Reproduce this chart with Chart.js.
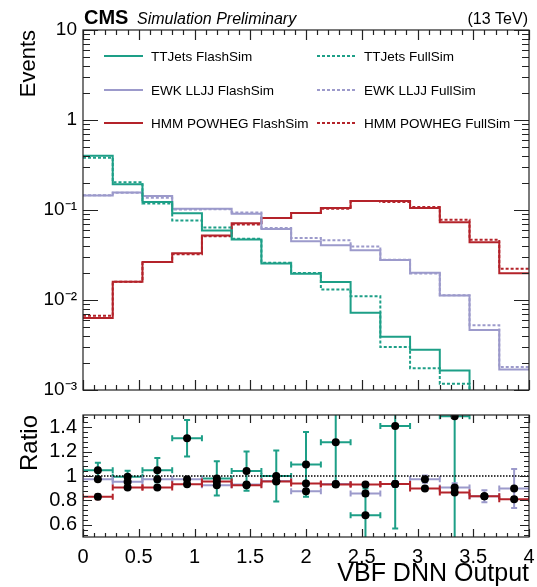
<!DOCTYPE html>
<html>
<head>
<meta charset="utf-8">
<script src="https://cdn.jsdelivr.net/npm/chart.js@4.4.0/dist/chart.umd.min.js"></script>
<style>
  html, body { margin: 0; padding: 0; background: #fff; }
  #wrap { position: relative; width: 537px; height: 587px; overflow: hidden; }
  canvas { position: absolute; left: 0; }
  #main { top: 0; }
  #ratio { top: 400px; }
</style>
</head>
<body>
<div id="wrap">
  <canvas id="main" width="537" height="400"></canvas>
  <canvas id="ratio" width="537" height="187"></canvas>
</div>
<script>
"use strict";

// binning: 15 bins between 0 and 4
const xMax = 4;
const nBins = 15;
const binEdges = Array.from({ length: nBins + 1 }, (_, i) => (i * xMax) / nBins);
const binCenters = binEdges.slice(0, -1).map((e, i) => (e + binEdges[i + 1]) / 2);

// normalised distributions (upper panel)
const ttFlash = [0.40, 0.193, 0.123, 0.092, 0.059, 0.047, 0.0254, 0.0196, 0.0158, 0.0072, 0.0039, 0.0028, 0.00165, 0, 0];
const ttFull = [0.38, 0.203, 0.118, 0.0766, 0.064, 0.048, 0.026, 0.020, 0.0131, 0.011, 0.0030, 0.00175, 0.00117, 0, 0];
const ewkFlash = [0.145, 0.156, 0.143, 0.1035, 0.103, 0.091, 0.0616, 0.0449, 0.0407, 0.0358, 0.0279, 0.0201, 0.0112, 0.00464, 0.00169];
const ewkFull = [0.146, 0.155, 0.137, 0.101, 0.102, 0.094, 0.063, 0.0487, 0.046, 0.0393, 0.028, 0.0197, 0.0113, 0.00524, 0.0018];
const hmmFlash = [0.0063, 0.0159, 0.0265, 0.0331, 0.052, 0.0714, 0.0813, 0.0925, 0.105, 0.126, 0.126, 0.105, 0.0733, 0.0437, 0.0198];
const hmmFull = [0.0067, 0.0159, 0.0265, 0.0322, 0.051, 0.069, 0.0813, 0.0925, 0.103, 0.126, 0.123, 0.108, 0.0779, 0.0468, 0.0223];

// FlashSim / FullSim ratios (lower panel)
const ttRatio = [1.048, 0.993, 1.048, 1.309, 0.98, 1.04, 1.0, 1.095, 1.276, 0.678, 1.41, null, 1.49, null, null];
const ttRatioErr = [0.06, 0.05, 0.1, 0.15, 0.14, 0.16, 0.21, 0.265, 0.34, 0.22, 0.84, null, 1.0, null, null];
const ewkRatio = [0.974, 0.952, 0.974, 0.974, 0.925, 0.93, 0.96, 0.876, 0.935, 0.857, 0.935, 0.974, 0.906, 0.834, 0.898];
const ewkRatioErr = [0.01, 0.01, 0.01, 0.01, 0.01, 0.01, 0.015, 0.02, 0.02, 0.02, 0.025, 0.03, 0.035, 0.05, 0.16];
const hmmRatio = [0.829, 0.906, 0.906, 0.933, 0.955, 0.925, 0.955, 0.939, 0.931, 0.931, 0.935, 0.898, 0.865, 0.834, 0.81];
const hmmRatioErr = [0.02, 0.01, 0.01, 0.01, 0.01, 0.01, 0.01, 0.01, 0.01, 0.01, 0.01, 0.01, 0.01, 0.01, 0.015];

// axis ticks
const xTicks = [0, 0.5, 1, 1.5, 2, 2.5, 3, 3.5, 4];
const mainYTicks = [0.001, 0.01, 0.1, 1, 10];
const mainYLabels = ["10\u207B\u00B3", "10\u207B\u00B2", "10\u207B\u00B9", "1", "10"];
const ratioYTicks = [0.6, 0.8, 1, 1.2, 1.4];
const ratioYLabels = ["0.6", "0.8", "1", "1.2", "1.4"];

const GREEN = "#1d9f87";
const LAV = "#9c9acb";
const RED = "#b4232a";
const FONT = "'Liberation Sans', Arial, Helvetica, sans-serif";

const mainSeries = [
  { label: "TTJets FlashSim", values: ttFlash, color: GREEN, dashed: false },
  { label: "TTJets FullSim", values: ttFull, color: GREEN, dashed: true },
  { label: "EWK LLJJ FlashSim", values: ewkFlash, color: LAV, dashed: false },
  { label: "EWK LLJJ FullSim", values: ewkFull, color: LAV, dashed: true },
  { label: "HMM POWHEG FlashSim", values: hmmFlash, color: RED, dashed: false },
  { label: "HMM POWHEG FullSim", values: hmmFull, color: RED, dashed: true },
];

const ratioSeries = [
  { values: ttRatio, errors: ttRatioErr, color: GREEN },
  { values: ewkRatio, errors: ewkRatioErr, color: LAV },
  { values: hmmRatio, errors: hmmRatioErr, color: RED },
];

function histPoints(values) {
  // empty bins go far below the log axis so the step drops out of the frame
  const pts = values.map((v, i) => ({ x: binEdges[i], y: v > 0 ? v : 1e-6 }));
  pts.push({ x: binEdges[nBins], y: pts[pts.length - 1].y });
  return pts;
}

// keep the plot frame where layout.padding puts it (no extra room for edge labels)
function noEdgePadding(s) {
  s.paddingLeft = 0;
  s.paddingRight = 0;
  s.paddingTop = 0;
  s.paddingBottom = 0;
}

// ROOT style frame with inward ticks on all four sides
function frameTicks(cfg) {
  return {
    id: "frameTicks",
    afterDraw(chart) {
      const { ctx, chartArea: a } = chart;
      const xs = chart.scales.x;
      const ys = chart.scales.y;
      ctx.save();
      ctx.strokeStyle = "#222";
      ctx.lineWidth = 1.2;
      ctx.beginPath();
      cfg.xMinor.forEach((v) => {
        const p = Math.round(xs.getPixelForValue(v)) + 0.5;
        const len = cfg.xMajor.some((m) => Math.abs(m - v) < 1e-6) ? cfg.xMajorLen : cfg.xMinorLen;
        ctx.moveTo(p, a.bottom);
        ctx.lineTo(p, a.bottom - len);
        ctx.moveTo(p, a.top);
        ctx.lineTo(p, a.top + len);
      });
      cfg.yMinor.forEach((v) => {
        const p = Math.round(ys.getPixelForValue(v)) + 0.5;
        const len = cfg.yMajor.some((m) => Math.abs(m - v) / m < 1e-6) ? cfg.yMajorLen : cfg.yMinorLen;
        ctx.moveTo(a.left, p);
        ctx.lineTo(a.left + len, p);
        ctx.moveTo(a.right, p);
        ctx.lineTo(a.right - len, p);
      });
      ctx.stroke();
      ctx.strokeRect(a.left, a.top, a.right - a.left, a.bottom - a.top);
      ctx.restore();
    },
  };
}

const xMinorTicks = Array.from({ length: 41 }, (_, i) => i / 10);
const logMinorTicks = [];
[0.001, 0.01, 0.1, 1].forEach((d) => {
  for (let k = 1; k <= 9; k++) logMinorTicks.push(k * d);
});
logMinorTicks.push(10);
const ratioMinorTicks = Array.from({ length: 25 }, (_, i) => 0.52 + i * 0.04);

const headerPlugin = {
  id: "header",
  afterDraw(chart) {
    const { ctx, chartArea: a } = chart;
    ctx.save();
    ctx.fillStyle = "#000";
    ctx.textBaseline = "alphabetic";
    ctx.font = "bold 20px " + FONT;
    ctx.textAlign = "left";
    ctx.fillText("CMS", a.left + 1, 24);
    ctx.font = "italic 16px " + FONT;
    ctx.fillText("Simulation Preliminary", a.left + 54, 24);
    ctx.textAlign = "right";
    ctx.font = "16px " + FONT;
    ctx.fillText("(13 TeV)", a.right - 1, 24);

    // legend, two columns
    const colX = [104, 317];
    const rowY = [56, 90, 123];
    ctx.font = "13.5px " + FONT;
    ctx.textAlign = "left";
    ctx.textBaseline = "middle";
    chart.data.datasets.forEach((ds, i) => {
      const x = colX[i % 2];
      const y = rowY[Math.floor(i / 2)];
      ctx.strokeStyle = ds.borderColor;
      ctx.lineWidth = 2;
      ctx.setLineDash(ds.borderDash);
      ctx.beginPath();
      ctx.moveTo(x, y);
      ctx.lineTo(x + 39, y);
      ctx.stroke();
      ctx.setLineDash([]);
      ctx.fillText(ds.label, x + 47, y + 1);
    });
    ctx.restore();
  },
};

const errorBars = {
  id: "errorBars",
  beforeDatasetsDraw(chart) {
    const { ctx, chartArea: a } = chart;
    const xs = chart.scales.x;
    const ys = chart.scales.y;
    ctx.save();
    ctx.beginPath();
    ctx.rect(a.left, a.top, a.right - a.left, a.bottom - a.top);
    ctx.clip();
    ctx.lineWidth = 2;
    ratioSeries.forEach((s) => {
      ctx.strokeStyle = s.color;
      s.values.forEach((v, i) => {
        if (v == null) return;
        const x0 = xs.getPixelForValue(binEdges[i]);
        const x1 = xs.getPixelForValue(binEdges[i + 1]);
        const xc = xs.getPixelForValue(binCenters[i]);
        const yv = ys.getPixelForValue(v);
        const yt = ys.getPixelForValue(v + s.errors[i]);
        const yb = ys.getPixelForValue(v - s.errors[i]);
        ctx.beginPath();
        ctx.moveTo(x0, yv);
        ctx.lineTo(x1, yv);
        ctx.moveTo(x0, yv - 3);
        ctx.lineTo(x0, yv + 3);
        ctx.moveTo(x1, yv - 3);
        ctx.lineTo(x1, yv + 3);
        ctx.moveTo(xc, yt);
        ctx.lineTo(xc, yb);
        ctx.moveTo(xc - 3, yt);
        ctx.lineTo(xc + 3, yt);
        ctx.moveTo(xc - 3, yb);
        ctx.lineTo(xc + 3, yb);
        ctx.stroke();
      });
    });
    ctx.restore();
  },
};

Chart.defaults.font.family = FONT;
Chart.defaults.color = "#000";

new Chart("main", {
  type: "line",
  data: {
    datasets: mainSeries.map((s) => ({
      label: s.label,
      data: histPoints(s.values),
      borderColor: s.color,
      borderWidth: 2,
      borderDash: s.dashed ? [3, 2] : [],
      stepped: true,
      pointRadius: 0,
      fill: false,
    })),
  },
  options: {
    responsive: false,
    animation: false,
    devicePixelRatio: 1,
    layout: { padding: { left: 0, right: 8, top: 30, bottom: 10 } },
    plugins: { legend: { display: false }, tooltip: { enabled: false } },
    scales: {
      x: { type: "linear", min: 0, max: xMax, display: false, afterFit: noEdgePadding },
      y: {
        type: "logarithmic",
        min: 0.001,
        max: 10,
        afterBuildTicks: (s) => {
          s.ticks = mainYTicks.map((v) => ({ value: v }));
        },
        afterFit: (s) => {
          s.width = 83;
          noEdgePadding(s);
        },
        ticks: {
          font: { size: 19, lineHeight: 1 },
          padding: 6,
          callback: (v, i) => mainYLabels[i],
        },
        grid: { display: false, drawTicks: false },
        border: { display: false },
        title: {
          display: true,
          text: "Events",
          align: "end",
          font: { size: 22 },
          padding: { top: 16, bottom: 0 },
        },
      },
    },
  },
  plugins: [
    headerPlugin,
    frameTicks({
      xMajor: xTicks, xMinor: xMinorTicks, xMajorLen: 10, xMinorLen: 5,
      yMajor: mainYTicks, yMinor: logMinorTicks, yMajorLen: 15, yMinorLen: 7,
    }),
  ],
});

const pointSet = (values) => ({
  data: values.map((v, i) => ({ x: binCenters[i], y: v })),
  showLine: false,
  pointRadius: 4,
  pointBackgroundColor: "#000",
  pointBorderColor: "#000",
  pointBorderWidth: 0,
  order: 0,
});

new Chart("ratio", {
  type: "scatter",
  data: {
    datasets: [
      {
        type: "line",
        data: [{ x: 0, y: 1 }, { x: xMax, y: 1 }],
        borderColor: "#000",
        borderWidth: 1.5,
        borderDash: [1.5, 1.5],
        pointRadius: 0,
        order: 5,
      },
      pointSet(ttRatio),
      pointSet(ewkRatio),
      pointSet(hmmRatio),
    ],
  },
  options: {
    responsive: false,
    animation: false,
    devicePixelRatio: 1,
    layout: { padding: { left: 0, right: 8, top: 15, bottom: 0 } },
    plugins: { legend: { display: false }, tooltip: { enabled: false } },
    scales: {
      x: {
        type: "linear",
        min: 0,
        max: xMax,
        afterBuildTicks: (s) => {
          s.ticks = xTicks.map((v) => ({ value: v }));
        },
        afterFit: (s) => {
          s.height = 50;
          noEdgePadding(s);
        },
        ticks: {
          font: { size: 20 },
          padding: 8,
          autoSkip: false,
          maxRotation: 0,
          callback: (v) => String(v),
        },
        grid: { display: false, drawTicks: false },
        border: { display: false },
        title: {
          display: true,
          text: "VBF DNN Output",
          align: "end",
          font: { size: 25, lineHeight: 1 },
          padding: { top: 0, bottom: 0 },
        },
      },
      y: {
        type: "linear",
        min: 0.5,
        max: 1.5,
        afterBuildTicks: (s) => {
          s.ticks = ratioYTicks.map((v) => ({ value: v }));
        },
        afterFit: (s) => {
          s.width = 83;
          noEdgePadding(s);
        },
        ticks: {
          font: { size: 20 },
          padding: 6,
          callback: (v, i) => ratioYLabels[i],
        },
        grid: { display: false, drawTicks: false },
        border: { display: false },
        title: {
          display: true,
          text: "Ratio",
          align: "end",
          font: { size: 24, lineHeight: 1 },
          padding: { top: 18, bottom: 0 },
        },
      },
    },
  },
  plugins: [
    errorBars,
    frameTicks({
      xMajor: xTicks, xMinor: xMinorTicks, xMajorLen: 8, xMinorLen: 4,
      yMajor: ratioYTicks, yMinor: ratioMinorTicks, yMajorLen: 9, yMinorLen: 5,
    }),
  ],
});
</script>
</body>
</html>
